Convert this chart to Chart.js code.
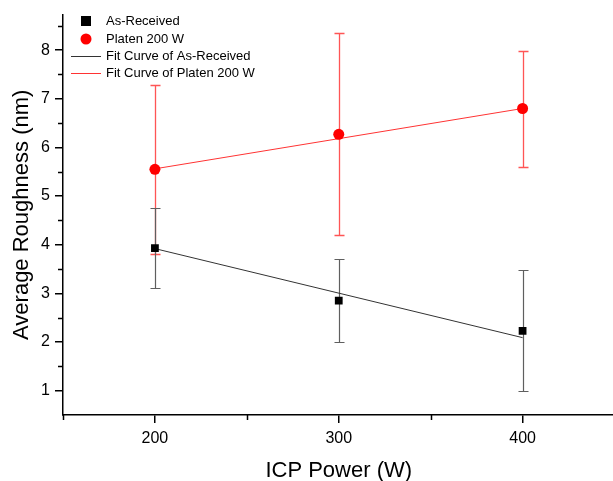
<!DOCTYPE html>
<html>
<head>
<meta charset="utf-8">
<script src="https://cdn.jsdelivr.net/npm/chart.js@4"></script>
<style>
  html, body { margin: 0; padding: 0; background: #fff; overflow: hidden; }
  #wrap { width: 620px; height: 481px; }
</style>
</head>
<body>
<div id="wrap"><canvas id="chart"></canvas></div>
<script>
// ICP power settings
const power = [200, 300, 400];

// as-received samples
const asReceived = [3.93, 2.85, 2.23];
const asReceivedHigh = [4.76, 3.70, 3.48];
const asReceivedLow = [3.11, 2.00, 0.99];

// platen 200 W samples
const platen = [5.55, 6.27, 6.80];
const platenHigh = [7.29, 8.35, 7.99];
const platenLow = [3.80, 4.19, 5.60];

// linear fits (end points)
const fitPower = [200, 400];
const fitAsReceived = [3.92, 2.09];
const fitPlaten = [5.56, 6.80];

const yTicks = [1, 2, 3, 4, 5, 6, 7, 8];
const xTicks = [200, 300, 400];

const font = 'Arial, "Liberation Sans", sans-serif';

function pts(xs, ys) {
  return xs.map((x, i) => ({ x: x, y: ys[i] }));
}

const errorBars = {
  id: 'errorBars',
  beforeDatasetsDraw(chart) {
    const ctx = chart.ctx, xs = chart.scales.x, ys = chart.scales.y;
    const sets = [
      { hi: platenHigh, lo: platenLow, color: 'rgb(255, 85, 85)', width: 1.3 },
      { hi: asReceivedHigh, lo: asReceivedLow, color: 'rgb(95, 95, 95)', width: 1.2 }
    ];
    ctx.save();
    sets.forEach(s => {
      power.forEach((p, i) => {
        const x = Math.round(xs.getPixelForValue(p)) + 0.5;
        const y1 = Math.round(ys.getPixelForValue(s.hi[i])) + 0.5;
        const y2 = Math.round(ys.getPixelForValue(s.lo[i])) + 0.5;
        ctx.strokeStyle = s.color;
        ctx.lineWidth = s.width;
        ctx.beginPath();
        ctx.moveTo(x, y1); ctx.lineTo(x, y2);
        ctx.moveTo(x - 5, y1); ctx.lineTo(x + 5, y1);
        ctx.moveTo(x - 5, y2); ctx.lineTo(x + 5, y2);
        ctx.stroke();
      });
    });
    ctx.restore();
  }
};

const axisExtras = {
  id: 'axisExtras',
  afterDraw(chart) {
    const ctx = chart.ctx, xs = chart.scales.x, ys = chart.scales.y;
    const a = chart.chartArea;
    ctx.save();
    ctx.strokeStyle = '#000';
    ctx.lineWidth = 1.5;
    // minor ticks
    ctx.beginPath();
    for (let v = 1.5; v <= 8.5; v += 1) {
      const y = Math.round(ys.getPixelForValue(v)) + 0.5;
      ctx.moveTo(a.left - 5, y); ctx.lineTo(a.left, y);
    }
    [150, 250, 350].forEach(v => {
      const x = Math.round(xs.getPixelForValue(v)) + 0.5;
      ctx.moveTo(x, a.bottom); ctx.lineTo(x, a.bottom + 5);
    });
    ctx.stroke();

    // legend
    const items = chart.data.datasets;
    const lx = 86, ly = [21, 39, 56, 73];
    ctx.font = '13px ' + font;
    ctx.textBaseline = 'middle';
    items.forEach((d, i) => {
      const y = ly[i];
      if (i === 0) {
        ctx.fillStyle = '#000';
        ctx.fillRect(lx - 5, y - 5, 10, 10);
      } else if (i === 1) {
        ctx.fillStyle = '#ff0000';
        ctx.beginPath(); ctx.arc(lx, y, 5.5, 0, Math.PI * 2); ctx.fill();
      } else {
        ctx.strokeStyle = d.borderColor;
        ctx.lineWidth = 1;
        ctx.beginPath(); ctx.moveTo(lx - 15, y + 0.5); ctx.lineTo(lx + 15, y + 0.5); ctx.stroke();
      }
      ctx.fillStyle = '#000';
      ctx.fillText(d.label, 106, y);
    });
    ctx.restore();
  }
};

new Chart(document.getElementById('chart'), {
  type: 'scatter',
  data: {
    datasets: [
      {
        label: 'As-Received',
        data: pts(power, asReceived),
        pointStyle: 'rect',
        pointRadius: 5.5,
        backgroundColor: '#000',
        borderColor: '#000',
        borderWidth: 0,
        order: 0
      },
      {
        label: 'Platen 200 W',
        data: pts(power, platen),
        pointStyle: 'circle',
        pointRadius: 5.5,
        backgroundColor: '#ff0000',
        borderColor: '#ff0000',
        borderWidth: 0,
        order: 1
      },
      {
        label: 'Fit Curve of As-Received',
        data: pts(fitPower, fitAsReceived),
        showLine: true,
        pointRadius: 0,
        borderColor: '#333',
        borderWidth: 1,
        order: 2
      },
      {
        label: 'Fit Curve of Platen 200 W',
        data: pts(fitPower, fitPlaten),
        showLine: true,
        pointRadius: 0,
        borderColor: '#ff3333',
        borderWidth: 1,
        order: 3
      }
    ]
  },
  options: {
    responsive: true,
    maintainAspectRatio: false,
    animation: false,
    layout: { padding: { top: 11, right: 0, left: 0, bottom: 0 } },
    plugins: {
      legend: { display: false },
      tooltip: { enabled: false }
    },
    scales: {
      x: {
        type: 'linear',
        min: 150,
        max: 450,
        afterBuildTicks: s => { s.ticks = xTicks.map(v => ({ value: v })); },
        afterFit: s => { s.height = 66; },
        border: { color: '#000', width: 1.5 },
        grid: { drawOnChartArea: false, tickLength: 8, color: '#000', lineWidth: 1.5 },
        ticks: { color: '#000', font: { family: font, size: 16 }, padding: 6 },
        title: {
          display: true,
          text: 'ICP Power (W)',
          color: '#000',
          font: { family: font, size: 22, lineHeight: 0.9 },
          padding: { top: 0, bottom: 0 }
        }
      },
      y: {
        type: 'linear',
        min: 0.5,
        max: 8.73,
        afterBuildTicks: s => { s.ticks = yTicks.map(v => ({ value: v })); },
        afterFit: s => { s.width = 63; },
        border: { color: '#000', width: 1.5 },
        grid: { drawOnChartArea: false, tickLength: 8, color: '#000', lineWidth: 1.5 },
        ticks: { color: '#000', font: { family: font, size: 16 }, padding: 5 },
        title: {
          display: true,
          text: 'Average Roughness (nm)',
          color: '#000',
          font: { family: font, size: 22 },
          padding: { top: 9, bottom: 0 }
        }
      }
    }
  },
  plugins: [errorBars, axisExtras]
});
</script>
</body>
</html>
